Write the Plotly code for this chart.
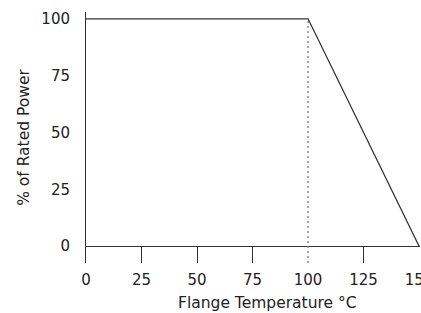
import plotly.graph_objects as go

# Data
temperature = [0, 100, 150]
rated_power = [100, 100, 0]
knee_x = [100, 100]
knee_y = [-7.4, 100]
x_tick_vals = [0, 25, 50, 75, 125, 150]
x_tick_knee = [100]
y_tick_vals = [0, 25, 50, 75, 100]

FONT = "DejaVu Sans"
TXT = "#222222"
LINE = "#333333"

fig = go.Figure()
fig.add_trace(go.Scatter(x=knee_x, y=knee_y, mode="lines",
                         line=dict(color="#8a8a8a", width=1.5, dash="2px,3px"),
                         hoverinfo="skip", showlegend=False))
fig.add_trace(go.Scatter(x=temperature, y=rated_power, mode="lines",
                         line=dict(color=LINE, width=1.3),
                         showlegend=False, cliponaxis=False))
fig.add_trace(go.Scatter(x=[None], y=[None], xaxis="x2", showlegend=False, hoverinfo="skip"))

fig.update_layout(
    width=421, height=313,
    margin=dict(l=86, r=1, t=12, b=50, autoexpand=False),
    paper_bgcolor="white", plot_bgcolor="white",
    font=dict(family=FONT, size=15, color=TXT),
    xaxis=dict(range=[0, 150.4], tickvals=x_tick_vals, ticks="inside", ticklen=17,
               tickwidth=1, tickcolor=LINE, showline=False, showgrid=False,
               zeroline=False, automargin=False, ticklabelstandoff=6,
               ticklabeloverflow="allow"),
    xaxis2=dict(range=[0, 150.4], overlaying="x", side="bottom", tickvals=x_tick_knee,
                ticks="", showline=False, showgrid=False, zeroline=False,
                automargin=False, ticklabelstandoff=6, ticklabeloverflow="allow"),
    yaxis=dict(range=[-7.4, 103], tickvals=y_tick_vals, ticks="", showline=True,
               linecolor=LINE, linewidth=1, showgrid=False, zeroline=True,
               zerolinecolor=LINE, zerolinewidth=1, automargin=False,
               ticklabelstandoff=12,
               title=dict(text="% of Rated Power", font=dict(size=15.5), standoff=7)),
    annotations=[dict(text="Flange Temperature °C", xref="paper", yref="paper",
                      x=0.5435, y=-0.159, xanchor="center", yanchor="middle",
                      showarrow=False, font=dict(size=15.5, color=TXT))],
)

fig.write_html("out.html", config={"displayModeBar": False},
               post_script="document.body.style.margin='0px';document.body.style.overflow='hidden';")
